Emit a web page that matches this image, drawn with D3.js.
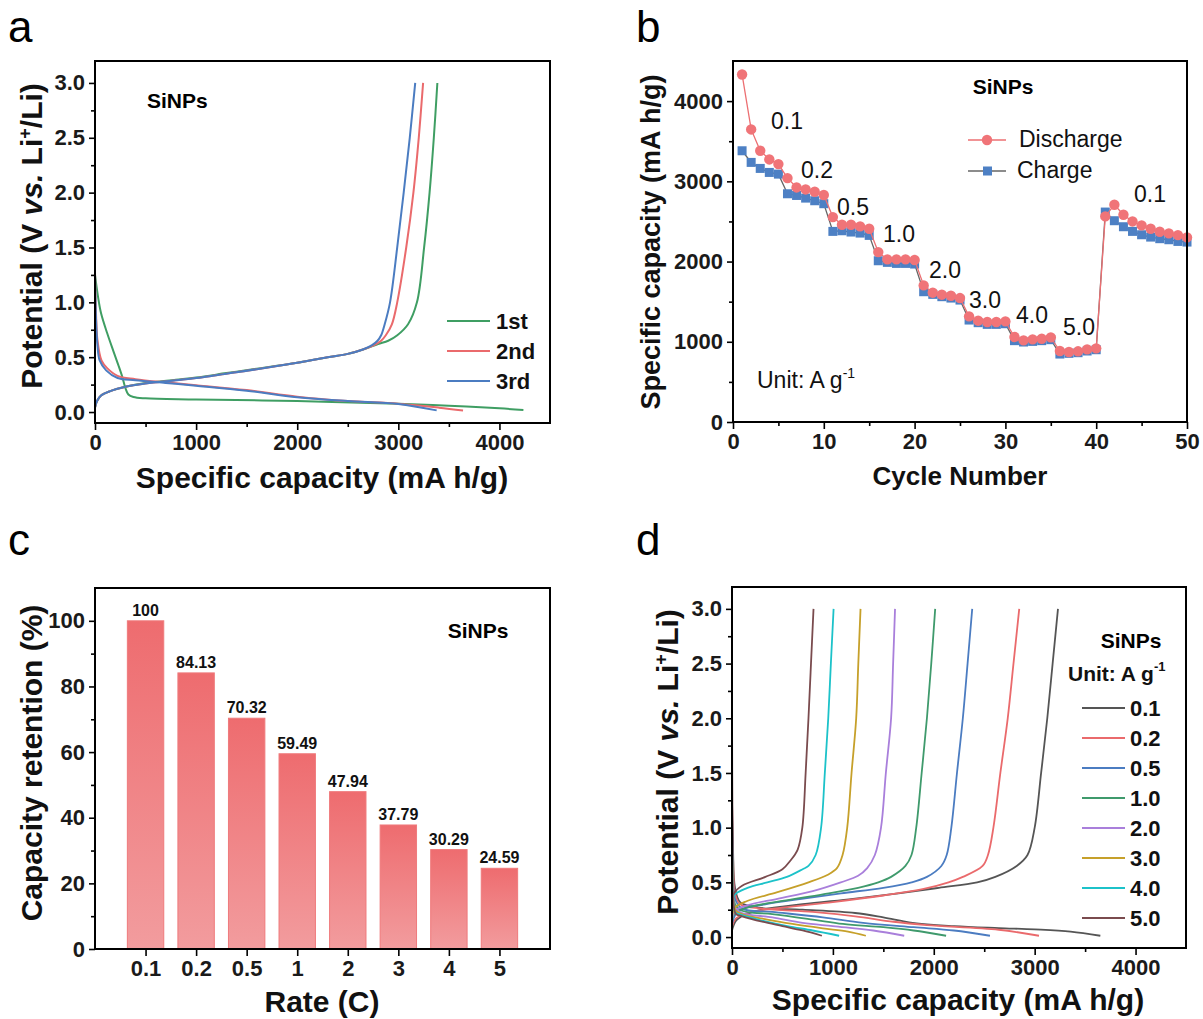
<!DOCTYPE html>
<html>
<head>
<meta charset="utf-8">
<script src="https://cdn.jsdelivr.net/npm/d3@7"></script>
<style>
  body { margin: 0; background: #fff; }
  svg { font-family: "Liberation Sans", Arial, sans-serif; }
  .tick text { font-size: 22px; font-weight: bold; fill: #1a1a1a; }
  .tick line { stroke: #000; stroke-width: 1.6; }
  .title { font-weight: bold; fill: #111; }
</style>
</head>
<body>
<script>
// ---------- panel a : first three cycles (capacity mAh/g, potential V) ----------
let aDischarge1st = [[0,1.25],[30,1.05],[60,0.9],[120,0.72],[180,0.56],[230,0.43],[270,0.32],[300,0.22],[330,0.16],[380,0.137],[500,0.125],[1000,0.115],[2000,0.1],[3000,0.075],[3500,0.058],[4000,0.034],[4237,0.018]];
let aDischarge2nd = [[0,1.28],[10,0.9],[25,0.65],[64,0.47],[120,0.4],[223,0.33],[400,0.3],[700,0.27],[1000,0.245],[1500,0.2],[2000,0.14],[2500,0.1],[3000,0.076],[3400,0.04],[3640,0.013]];
let aDischarge3rd = [[0,1.25],[10,0.85],[25,0.6],[46,0.47],[110,0.38],[223,0.31],[400,0.29],[700,0.265],[1000,0.24],[1500,0.195],[2000,0.135],[2500,0.1],[3000,0.074],[3379,0.015]];
let aCharge1st = [[0,0.04],[20,0.1],[60,0.15],[150,0.19],[300,0.23],[500,0.265],[800,0.295],[1000,0.315],[1300,0.355],[1600,0.395],[2000,0.45],[2300,0.5],[2500,0.53],[2650,0.57],[2800,0.62],[2900,0.65],[2990,0.7],[3096,0.8],[3184,1.0],[3255,1.5],[3309,2.0],[3351,2.5],[3386,3.0]];
let aCharge2nd = [[0,0.04],[20,0.1],[60,0.15],[150,0.19],[300,0.23],[500,0.26],[800,0.29],[1000,0.31],[1300,0.35],[1600,0.39],[2000,0.45],[2300,0.5],[2500,0.53],[2650,0.57],[2760,0.61],[2830,0.65],[2876,0.7],[2936,0.8],[2989,1.0],[3078,1.5],[3149,2.0],[3202,2.5],[3245,3.0]];
let aCharge3rd = [[0,0.04],[20,0.1],[60,0.15],[150,0.19],[300,0.23],[500,0.26],[800,0.29],[1000,0.31],[1300,0.35],[1600,0.39],[2000,0.45],[2300,0.5],[2500,0.53],[2650,0.57],[2740,0.61],[2794,0.65],[2830,0.7],[2865,0.8],[2918,1.0],[2989,1.5],[3053,2.0],[3113,2.5],[3167,3.0]];
let aLabels = ["1st", "2nd", "3rd"];
let aColors = ["#3f9e63", "#ea6a6c", "#4b7cc1"];

// ---------- panel b : rate performance ----------
let bCycles = d3.range(1, 51);
let bDischarge = [4332,3647,3381,3273,3215,3040,2924,2899,2870,2829,
                  2554,2459,2459,2438,2409,2118,2027,2027,2027,2019,
                  1703,1612,1587,1574,1545,1317,1263,1246,1246,1254,
                  1059,1018,1030,1038,1055,885,872,881,905,918,
                  2563,2708,2584,2500,2451,2409,2372,2351,2330,2301];
let bCharge = [3381,3236,3161,3111,3090,2845,2824,2791,2758,2721,
               2376,2384,2368,2355,2326,2010,1990,1977,1977,1969,
               1624,1591,1562,1545,1520,1271,1238,1217,1217,1225,
               1014,997,1005,1014,1026,847,856,864,885,901,
               2617,2509,2434,2376,2334,2305,2285,2272,2251,2243];
let bRateLabels = ["0.1","0.2","0.5","1.0","2.0","3.0","4.0","5.0","0.1"];

// ---------- panel c : capacity retention ----------
let cRates = ["0.1","0.2","0.5","1","2","3","4","5"];
let cRetention = [100, 84.13, 70.32, 59.49, 47.94, 37.79, 30.29, 24.59];

// ---------- panel d : charge/discharge curves at each rate ----------
let dRates = ["0.1","0.2","0.5","1.0","2.0","3.0","4.0","5.0"];
let dColors = ["#555555","#ea6a6c","#4b7cc1","#3f9a6c","#a97fdb","#c6a02a","#1cc2c9","#7a4b4e"];
let dCharge01 = [[0,0.06],[40,0.15],[120,0.2],[300,0.25],[700,0.3],[1200,0.35],[1650,0.4],[2050,0.45],[2430,0.5],[2610,0.55],[2822,0.65],[2929,0.75],[3000,1.0],[3064,1.5],[3125,2.0],[3178,2.5],[3231,3.0]];
let dCharge02 = [[0,0.1],[40,0.17],[150,0.22],[500,0.27],[1000,0.32],[1500,0.38],[1900,0.44],[2146,0.5],[2288,0.55],[2484,0.65],[2537,0.75],[2591,1.0],[2660,1.5],[2733,2.0],[2790,2.5],[2847,3.0]];
let dCharge05 = [[0,0.12],[30,0.2],[80,0.25],[330,0.3],[690,0.35],[1080,0.4],[1500,0.45],[1780,0.5],[1932,0.55],[2075,0.65],[2128,0.75],[2174,1.0],[2230,1.5],[2288,2.0],[2335,2.5],[2381,3.0]];
let dCharge10 = [[0,0.14],[30,0.22],[150,0.27],[500,0.33],[900,0.39],[1250,0.45],[1450,0.5],[1577,0.55],[1719,0.65],[1779,0.75],[1826,1.0],[1880,1.5],[1932,2.0],[1975,2.5],[2014,3.0]];
let dCharge20 = [[0,0.16],[30,0.24],[150,0.29],[450,0.35],[800,0.42],[1078,0.5],[1250,0.56],[1340,0.63],[1416,0.75],[1477,1.0],[1525,1.5],[1577,2.0],[1597,2.5],[1616,3.0]];
let dCharge30 = [[0,0.18],[30,0.27],[150,0.33],[450,0.41],[758,0.5],[950,0.57],[1040,0.63],[1096,0.75],[1142,1.0],[1185,1.5],[1231,2.0],[1252,2.5],[1274,3.0]];
let dCharge40 = [[0,0.25],[20,0.38],[153,0.45],[350,0.5],[544,0.55],[700,0.62],[758,0.65],[829,0.75],[883,1.0],[920,1.5],[954,2.0],[980,2.5],[1007,3.0]];
let dCharge50 = [[0,0.3],[20,0.4],[100,0.47],[331,0.55],[500,0.62],[580,0.7],[651,0.8],[697,1.0],[730,1.5],[758,2.0],[783,2.5],[808,3.0]];
let dDischarge01 = [[0,1.3],[10,0.8],[30,0.45],[80,0.32],[260,0.27],[700,0.25],[1220,0.22],[1500,0.18],[1790,0.13],[2200,0.1],[2644,0.082],[3000,0.07],[3356,0.05],[3651,0.012]];
let dDischarge02 = [[0,1.3],[10,0.75],[30,0.4],[80,0.3],[300,0.26],[800,0.23],[1221,0.19],[1600,0.14],[1932,0.11],[2644,0.067],[3043,0.012]];
let dDischarge05 = [[0,1.2],[10,0.7],[30,0.35],[100,0.26],[400,0.23],[900,0.18],[1300,0.13],[1800,0.09],[2200,0.06],[2557,0.012]];
let dDischarge10 = [[0,1.2],[10,0.6],[30,0.3],[100,0.24],[400,0.21],[800,0.16],[1100,0.12],[1500,0.09],[1800,0.06],[2122,0.012]];
let dDischarge20 = [[0,1.1],[10,0.5],[30,0.27],[100,0.22],[400,0.18],[700,0.13],[1000,0.1],[1400,0.06],[1707,0.012]];
let dDischarge30 = [[0,1.0],[10,0.45],[30,0.25],[100,0.21],[350,0.16],[600,0.12],[900,0.08],[1150,0.05],[1327,0.012]];
let dDischarge40 = [[0,1.0],[10,0.4],[30,0.23],[100,0.2],[300,0.15],[550,0.1],[800,0.06],[1062,0.012]];
let dDischarge50 = [[0,2.2],[5,1.0],[15,0.3],[40,0.21],[100,0.19],[300,0.14],[500,0.1],[700,0.06],[891,0.012]];

let svg = d3.select("body").append("svg")
    .attr("width", 1203)
    .attr("height", 1019);

let fmtInt = d3.format("d");
let fmt1 = d3.format(".1f");

// draws box frame + outward major/minor ticks
function drawAxes(x, y, opt) {
    let g = svg.append("g");
    let [x0, x1] = x.range();
    let [y0, y1] = y.range();
    g.append("g").attr("transform", `translate(0,${y0})`)
        .call(d3.axisBottom(x).tickValues(opt.xMinor || []).tickSize(4).tickFormat(""))
        .call(s => s.select(".domain").remove());
    g.append("g").attr("transform", `translate(0,${y0})`)
        .call(d3.axisBottom(x).tickValues(opt.xMajor).tickSize(7).tickPadding(4).tickFormat(opt.xFormat || fmtInt))
        .call(s => s.select(".domain").remove());
    g.append("g").attr("transform", `translate(${x0},0)`)
        .call(d3.axisLeft(y).tickValues(opt.yMinor || []).tickSize(4).tickFormat(""))
        .call(s => s.select(".domain").remove());
    g.append("g").attr("transform", `translate(${x0},0)`)
        .call(d3.axisLeft(y).tickValues(opt.yMajor).tickSize(6).tickPadding(4).tickFormat(opt.yFormat || fmtInt))
        .call(s => s.select(".domain").remove());
    g.append("rect")
        .attr("x", x0).attr("y", y1)
        .attr("width", x1 - x0).attr("height", y0 - y1)
        .attr("fill", "none").attr("stroke", "#000").attr("stroke-width", 2);
}

function panelLetter(txt, x, y) {
    svg.append("text").attr("x", x).attr("y", y)
        .attr("font-size", 44).attr("fill", "#000").text(txt);
}

// rotated "Potential (V vs. Li+/Li)" title
function potentialTitle(cx, cy) {
    let t = svg.append("text").attr("class", "title")
        .attr("transform", `translate(${cx},${cy}) rotate(-90)`)
        .attr("text-anchor", "middle").attr("font-size", 30);
    t.append("tspan").text("Potential (V ");
    t.append("tspan").attr("font-style", "italic").text("vs.");
    t.append("tspan").text(" Li");
    t.append("tspan").attr("font-size", 18).attr("dy", -11).text("+");
    t.append("tspan").attr("dy", 11).text("/Li)");
}

let line = d3.line().curve(d3.curveCatmullRom.alpha(0.5));

// ================= panel a =================
let xA = d3.scaleLinear().domain([0, 4500]).range([95, 550]);
let yA = d3.scaleLinear().domain([-0.1, 3.2]).range([423, 61]);
let aSets = [[aDischarge1st, aCharge1st], [aDischarge2nd, aCharge2nd], [aDischarge3rd, aCharge3rd]];
aSets.forEach((pair, i) => {
    pair.forEach(pts => {
        svg.append("path")
            .attr("d", line(pts.map(p => [xA(p[0]), yA(p[1])])))
            .attr("fill", "none").attr("stroke", aColors[i]).attr("stroke-width", 2);
    });
});
drawAxes(xA, yA, {
    xMajor: [0, 1000, 2000, 3000, 4000], xMinor: [500, 1500, 2500, 3500],
    yMajor: [0, 0.5, 1, 1.5, 2, 2.5, 3], yMinor: [0.25, 0.75, 1.25, 1.75, 2.25, 2.75],
    yFormat: fmt1
});
aLabels.forEach((lab, i) => {
    let yy = 321 + i * 30;
    svg.append("line").attr("x1", 447).attr("x2", 490).attr("y1", yy).attr("y2", yy)
        .attr("stroke", aColors[i]).attr("stroke-width", 2);
    svg.append("text").attr("x", 496).attr("y", yy + 8).attr("font-size", 22)
        .attr("font-weight", "bold").attr("fill", "#111").text(lab);
});
svg.append("text").attr("x", 147).attr("y", 108).attr("font-size", 21)
    .attr("font-weight", "bold").text("SiNPs");
svg.append("text").attr("class", "title").attr("x", 322).attr("y", 488)
    .attr("text-anchor", "middle").attr("font-size", 30).text("Specific capacity (mA h/g)");
potentialTitle(42, 236);
panelLetter("a", 8, 42);

// ================= panel b =================
let xB = d3.scaleLinear().domain([0, 50]).range([733, 1187]);
let yB = d3.scaleLinear().domain([0, 4500]).range([422, 61]);
svg.append("path")
    .attr("d", d3.line()(bCycles.map((c, i) => [xB(c), yB(bCharge[i])])))
    .attr("fill", "none").attr("stroke", "#666").attr("stroke-width", 1.3);
svg.append("g").selectAll("rect")
    .data(bCharge).enter().append("rect")
    .attr("x", (d, i) => xB(bCycles[i]) - 4.5)
    .attr("y", d => yB(d) - 4.5)
    .attr("width", 9).attr("height", 9)
    .attr("fill", "#4d80c4");
svg.append("path")
    .attr("d", d3.line()(bCycles.map((c, i) => [xB(c), yB(bDischarge[i])])))
    .attr("fill", "none").attr("stroke", "#ec6f72").attr("stroke-width", 1.3);
svg.append("g").selectAll("circle")
    .data(bDischarge).enter().append("circle")
    .attr("cx", (d, i) => xB(bCycles[i]))
    .attr("cy", d => yB(d))
    .attr("r", 5.2)
    .attr("fill", "#f07478");
drawAxes(xB, yB, {
    xMajor: [0, 10, 20, 30, 40, 50], xMinor: [5, 15, 25, 35, 45],
    yMajor: [0, 1000, 2000, 3000, 4000], yMinor: [500, 1500, 2500, 3500]
});
// rate annotations
let bLabelPos = [[787,121],[817,170],[853,207],[899,234],[945,270],[985,300],[1032,315],[1079,327],[1150,194]];
bRateLabels.forEach((lab, i) => {
    svg.append("text").attr("x", bLabelPos[i][0]).attr("y", bLabelPos[i][1] + 8)
        .attr("text-anchor", "middle").attr("font-size", 23).attr("fill", "#111").text(lab);
});
svg.append("text").attr("x", 1003).attr("y", 94).attr("text-anchor", "middle")
    .attr("font-size", 21).attr("font-weight", "bold").text("SiNPs");
let unitB = svg.append("text").attr("x", 757).attr("y", 388).attr("font-size", 23).attr("fill", "#111");
unitB.append("tspan").text("Unit: A g");
unitB.append("tspan").attr("font-size", 14).attr("dy", -10).text("-1");
// legend
svg.append("line").attr("x1", 968).attr("x2", 1006).attr("y1", 140).attr("y2", 140)
    .attr("stroke", "#ec6f72").attr("stroke-width", 1.3);
svg.append("circle").attr("cx", 987).attr("cy", 140).attr("r", 5.2).attr("fill", "#f07478");
svg.append("text").attr("x", 1019).attr("y", 147).attr("font-size", 23).attr("fill", "#111").text("Discharge");
svg.append("line").attr("x1", 968).attr("x2", 1006).attr("y1", 171).attr("y2", 171)
    .attr("stroke", "#666").attr("stroke-width", 1.3);
svg.append("rect").attr("x", 983).attr("y", 166.5).attr("width", 9).attr("height", 9).attr("fill", "#4d80c4");
svg.append("text").attr("x", 1017).attr("y", 178).attr("font-size", 23).attr("fill", "#111").text("Charge");
svg.append("text").attr("class", "title").attr("x", 960).attr("y", 485)
    .attr("text-anchor", "middle").attr("font-size", 26).text("Cycle Number");
svg.append("text").attr("class", "title")
    .attr("transform", "translate(660,242) rotate(-90)")
    .attr("text-anchor", "middle").attr("font-size", 27).text("Specific capacity (mA h/g)");
panelLetter("b", 636, 42);

// ================= panel c =================
let xC = d3.scaleLinear().domain([0, 9]).range([95, 550]);
let yC = d3.scaleLinear().domain([0, 110]).range([949, 588]);
let defs = svg.append("defs");
let grad = defs.append("linearGradient").attr("id", "barGrad")
    .attr("x1", 0).attr("y1", 0).attr("x2", 0).attr("y2", 1);
grad.append("stop").attr("offset", "0%").attr("stop-color", "#ee6c6f");
grad.append("stop").attr("offset", "100%").attr("stop-color", "#f29c9e");
let barW = (xC(1) - xC(0)) * 0.72;
svg.append("g").selectAll("rect")
    .data(cRetention).enter().append("rect")
    .attr("x", (d, i) => xC(i + 1) - barW / 2)
    .attr("y", d => yC(d))
    .attr("width", barW)
    .attr("height", d => yC(0) - yC(d))
    .attr("fill", "url(#barGrad)")
    .attr("stroke", "#ef7a7c").attr("stroke-width", 1);
svg.append("g").selectAll("text")
    .data(cRetention).enter().append("text")
    .attr("x", (d, i) => xC(i + 1))
    .attr("y", d => yC(d) - 5)
    .attr("text-anchor", "middle").attr("font-size", 16).attr("font-weight", "bold")
    .attr("fill", "#111").text(d => d);
drawAxes(xC, yC, {
    xMajor: d3.range(1, 9), xFormat: d => cRates[d - 1],
    yMajor: [0, 20, 40, 60, 80, 100], yMinor: [10, 30, 50, 70, 90]
});
svg.append("text").attr("x", 478).attr("y", 638).attr("text-anchor", "middle")
    .attr("font-size", 21).attr("font-weight", "bold").text("SiNPs");
svg.append("text").attr("class", "title").attr("x", 322).attr("y", 1012)
    .attr("text-anchor", "middle").attr("font-size", 30).text("Rate (C)");
svg.append("text").attr("class", "title")
    .attr("transform", "translate(42,763) rotate(-90)")
    .attr("text-anchor", "middle").attr("font-size", 30).text("Capacity retention (%)");
panelLetter("c", 8, 555);

// ================= panel d =================
let xD = d3.scaleLinear().domain([0, 4500]).range([732, 1186]);
let yD = d3.scaleLinear().domain([-0.1, 3.2]).range([948, 587]);
let dCharge = [dCharge01, dCharge02, dCharge05, dCharge10, dCharge20, dCharge30, dCharge40, dCharge50];
let dDischarge = [dDischarge01, dDischarge02, dDischarge05, dDischarge10, dDischarge20, dDischarge30, dDischarge40, dDischarge50];
dRates.forEach((r, i) => {
    [dDischarge[i], dCharge[i]].forEach(pts => {
        svg.append("path")
            .attr("d", line(pts.map(p => [xD(p[0]), yD(p[1])])))
            .attr("fill", "none").attr("stroke", dColors[i]).attr("stroke-width", 1.8);
    });
});
drawAxes(xD, yD, {
    xMajor: [0, 1000, 2000, 3000, 4000], xMinor: [500, 1500, 2500, 3500],
    yMajor: [0, 0.5, 1, 1.5, 2, 2.5, 3], yMinor: [0.25, 0.75, 1.25, 1.75, 2.25, 2.75],
    yFormat: fmt1
});
svg.append("text").attr("x", 1131).attr("y", 648).attr("text-anchor", "middle")
    .attr("font-size", 21).attr("font-weight", "bold").text("SiNPs");
let unitD = svg.append("text").attr("x", 1068).attr("y", 681).attr("font-size", 21)
    .attr("font-weight", "bold").attr("fill", "#111");
unitD.append("tspan").text("Unit: A g");
unitD.append("tspan").attr("font-size", 13).attr("dy", -10).text("-1");
dRates.forEach((r, i) => {
    let yy = 708 + i * 30;
    svg.append("line").attr("x1", 1082).attr("x2", 1125).attr("y1", yy).attr("y2", yy)
        .attr("stroke", dColors[i]).attr("stroke-width", 2);
    svg.append("text").attr("x", 1130).attr("y", yy + 8).attr("font-size", 22)
        .attr("font-weight", "bold").attr("fill", "#111").text(r);
});
svg.append("text").attr("class", "title").attr("x", 958).attr("y", 1010)
    .attr("text-anchor", "middle").attr("font-size", 30).text("Specific capacity (mA h/g)");
potentialTitle(678, 762);
panelLetter("d", 636, 555);
</script>
</body>
</html>
